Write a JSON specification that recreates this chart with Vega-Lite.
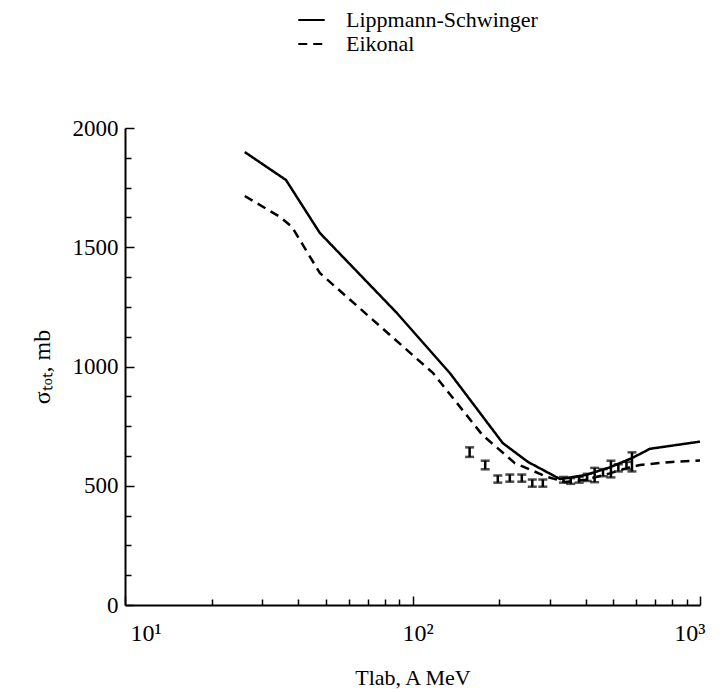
{
  "$schema": "https://vega.github.io/schema/vega-lite/v6.json",
  "width": 575,
  "height": 477,
  "autosize": {"type": "none"},
  "padding": {"left": 125, "top": 128, "right": 23, "bottom": 87},
  "background": "white",
  "config": {
    "view": {"stroke": null},
    "font": "Liberation Serif",
    "axis": {
      "grid": false,
      "domainColor": "black",
      "domainWidth": 2,
      "tickColor": "black",
      "tickWidth": 1.5,
      "labelColor": "black",
      "labelFont": "Liberation Serif",
      "labelFontSize": 23,
      "titleFont": "Liberation Serif",
      "titleFontSize": 22,
      "titleFontWeight": "normal",
      "titleColor": "black"
    },
    "legend": {
      "labelFont": "Liberation Serif",
      "labelFontSize": 22,
      "labelColor": "black",
      "labelLimit": 0
    }
  },
  "datasets": {
    "curves": [
      {"T": 26.1, "sigma": 1899, "series": "Lippmann-Schwinger"},
      {"T": 36.3, "sigma": 1782, "series": "Lippmann-Schwinger"},
      {"T": 47.6, "sigma": 1560, "series": "Lippmann-Schwinger"},
      {"T": 88.3, "sigma": 1224, "series": "Lippmann-Schwinger"},
      {"T": 135, "sigma": 972, "series": "Lippmann-Schwinger"},
      {"T": 206, "sigma": 679, "series": "Lippmann-Schwinger"},
      {"T": 252, "sigma": 600, "series": "Lippmann-Schwinger"},
      {"T": 326, "sigma": 528, "series": "Lippmann-Schwinger"},
      {"T": 400, "sigma": 545, "series": "Lippmann-Schwinger"},
      {"T": 480, "sigma": 575, "series": "Lippmann-Schwinger"},
      {"T": 580, "sigma": 616, "series": "Lippmann-Schwinger"},
      {"T": 670, "sigma": 655, "series": "Lippmann-Schwinger"},
      {"T": 1000, "sigma": 685, "series": "Lippmann-Schwinger"},
      {"T": 26.1, "sigma": 1715, "series": "Eikonal"},
      {"T": 34.6, "sigma": 1627, "series": "Eikonal"},
      {"T": 38.1, "sigma": 1585, "series": "Eikonal"},
      {"T": 47.6, "sigma": 1392, "series": "Eikonal"},
      {"T": 118, "sigma": 972, "series": "Eikonal"},
      {"T": 175, "sigma": 713, "series": "Eikonal"},
      {"T": 227, "sigma": 595, "series": "Eikonal"},
      {"T": 294, "sigma": 537, "series": "Eikonal"},
      {"T": 340, "sigma": 516, "series": "Eikonal"},
      {"T": 400, "sigma": 525, "series": "Eikonal"},
      {"T": 480, "sigma": 550, "series": "Eikonal"},
      {"T": 560, "sigma": 575, "series": "Eikonal"},
      {"T": 618, "sigma": 587, "series": "Eikonal"},
      {"T": 800, "sigma": 600, "series": "Eikonal"},
      {"T": 1000, "sigma": 606, "series": "Eikonal"}
    ],
    "points": [
      {"T": 158, "lo": 621, "hi": 661},
      {"T": 179, "lo": 569, "hi": 605},
      {"T": 198, "lo": 513, "hi": 543},
      {"T": 218, "lo": 517, "hi": 547},
      {"T": 240, "lo": 517, "hi": 547},
      {"T": 261, "lo": 496, "hi": 526},
      {"T": 284, "lo": 496, "hi": 526},
      {"T": 335, "lo": 513, "hi": 537},
      {"T": 355, "lo": 508, "hi": 532},
      {"T": 380, "lo": 513, "hi": 537},
      {"T": 405, "lo": 520, "hi": 550},
      {"T": 430, "lo": 515, "hi": 575},
      {"T": 460, "lo": 540, "hi": 570},
      {"T": 490, "lo": 535, "hi": 605},
      {"T": 520, "lo": 560, "hi": 590},
      {"T": 555, "lo": 570, "hi": 600},
      {"T": 580, "lo": 560, "hi": 640}
    ]
  },
  "resolve": {"axis": {"x": "independent", "y": "independent"}},
  "layer": [
    {
      "data": {"name": "curves"},
      "mark": {"type": "line", "strokeWidth": 2.5, "color": "black", "clip": true},
      "encoding": {
        "x": {
          "field": "T", "type": "quantitative",
          "scale": {"type": "log", "domain": [10, 1000], "nice": false},
          "axis": {
            "orient": "bottom",
            "values": [10, 100, 1000],
            "labelExpr": "datum.value == 10 ? '10¹' : datum.value == 100 ? '10²' : '10³'",
            "tickSize": -9,
            "labelPadding": 25,
            "labelOffset": 5,
            "labelFontSize": 24,
            "title": "Tlab, A MeV",
            "titlePadding": 22
          }
        },
        "y": {
          "field": "sigma", "type": "quantitative",
          "scale": {"domain": [0, 2000], "nice": false, "zero": true},
          "axis": {
            "orient": "left",
            "values": [0, 500, 1000, 1500, 2000],
            "format": "d",
            "tickSize": -9,
            "labelPadding": 16,
            "title": "σₜₒₜ, mb",
            "titleFontSize": 24,
            "titlePadding": 18
          }
        },
        "strokeDash": {
          "field": "series", "type": "nominal",
          "scale": {"domain": ["Lippmann-Schwinger", "Eikonal"], "range": [[1, 0], [9, 6]]},
          "legend": {
            "orient": "none",
            "legendX": 172,
            "legendY": -118,
            "title": null,
            "symbolType": "stroke",
            "symbolStrokeColor": "black",
            "symbolStrokeWidth": 2,
            "symbolSize": 700,
            "clipHeight": 20,
            "rowPadding": 2,
            "labelOffset": 20
          }
        },
        "order": {"field": "T", "type": "quantitative"}
      }
    },
    {
      "data": {"name": "points"},
      "mark": {"type": "rule", "color": "black", "strokeWidth": 2.5},
      "encoding": {
        "x": {
          "field": "T", "type": "quantitative",
          "scale": {"type": "log", "domain": [10, 1000], "nice": false},
          "axis": {"orient": "bottom", "values": [20, 30, 40, 50, 60, 70, 80, 90, 200, 300, 400, 500, 600, 700, 800, 900], "labels": false, "domain": false, "tickSize": -6, "title": null}
        },
        "y": {
          "field": "lo", "type": "quantitative",
          "scale": {"domain": [0, 2000], "nice": false},
          "axis": {"orient": "left", "values": [125, 250, 375, 625, 750, 875, 1125, 1250, 1375, 1625, 1750, 1875], "labels": false, "domain": false, "tickSize": -6, "title": null}
        },
        "y2": {"field": "hi"}
      }
    },
    {
      "data": {"name": "points"},
      "mark": {"type": "tick", "orient": "horizontal", "color": "black", "thickness": 2.5, "size": 9},
      "encoding": {
        "x": {"field": "T", "type": "quantitative", "scale": {"type": "log", "domain": [10, 1000], "nice": false}, "axis": null},
        "y": {"field": "lo", "type": "quantitative", "scale": {"domain": [0, 2000], "nice": false}, "axis": null}
      }
    },
    {
      "data": {"name": "points"},
      "mark": {"type": "tick", "orient": "horizontal", "color": "black", "thickness": 2.5, "size": 9},
      "encoding": {
        "x": {"field": "T", "type": "quantitative", "scale": {"type": "log", "domain": [10, 1000], "nice": false}, "axis": null},
        "y": {"field": "hi", "type": "quantitative", "scale": {"domain": [0, 2000], "nice": false}, "axis": null}
      }
    }
  ]
}
